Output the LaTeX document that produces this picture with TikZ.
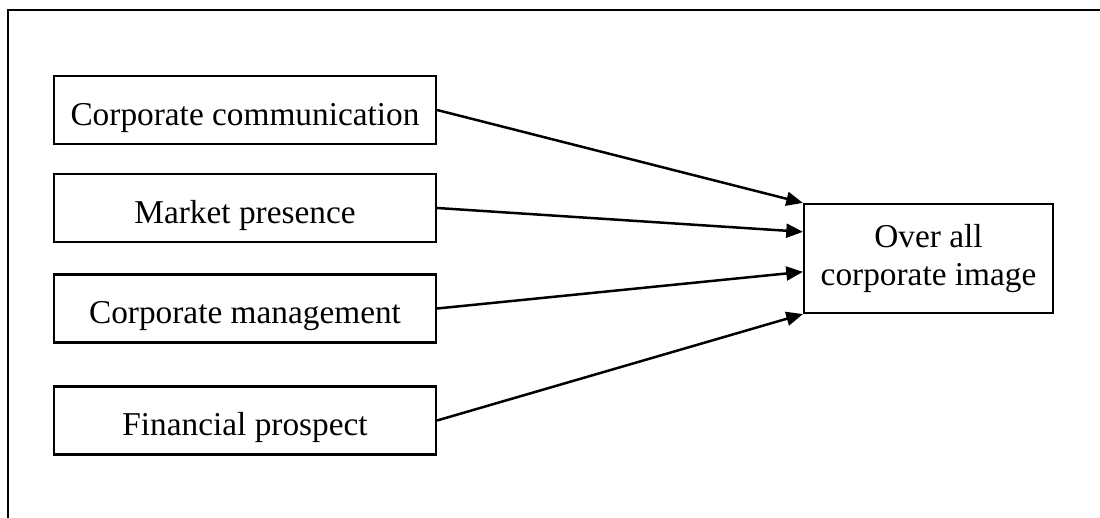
\documentclass[tikz,border=0pt]{standalone}
\usepackage{fontspec}
\setmainfont{Liberation Serif}
\usetikzlibrary{arrows.meta,calc}

\begin{document}
\begin{tikzpicture}[
    x=0.36pt, y=-0.36pt,
    font=\fontsize{12}{13.8}\selectfont,
    frame/.style={line width=0.9pt},
    box/.style={draw, line width=0.8pt, inner sep=0pt, align=center},
    factor/.style={box, minimum width=137.5pt, minimum height=24.5pt, text height=13pt, text depth=2pt},
    result/.style={box, minimum width=89.6pt, minimum height=39.2pt},
    link/.style={-{Triangle[length=6pt,width=5pt]}, line width=0.9pt}]

  \useasboundingbox (0,0) rectangle (1100,518);

  % ---- open frame (top and left only) ------------------------------------
  \draw[frame] (1100,10) -- (8,10) -- (8,518);

  % ---- left column: image factors ---------------------------------------
  \node[factor] (comm) at (245,110)   {Corporate communication};
  \node[factor] (mkt)  at (245,208)   {Market presence};
  \node[factor] (mgmt) at (245,308.5) {Corporate management};
  \node[factor] (fin)  at (245,420.5) {Financial prospect};

  % ---- right: overall image ----------------------------------------------
  \node[result] (img) at (928.5,258.5) {Over all\\ corporate image};
  \coordinate (in1) at (img.north west);
  \coordinate (in2) at ($(img.north west)!0.26!(img.south west)$);
  \coordinate (in3) at ($(img.north west)!0.62!(img.south west)$);
  \coordinate (in4) at (img.south west);

  \draw[link] (comm.east) -- (in1);
  \draw[link] (mkt.east)  -- (in2);
  \draw[link] (mgmt.east) -- (in3);
  \draw[link] (fin.east)  -- (in4);
\end{tikzpicture}
\end{document}
